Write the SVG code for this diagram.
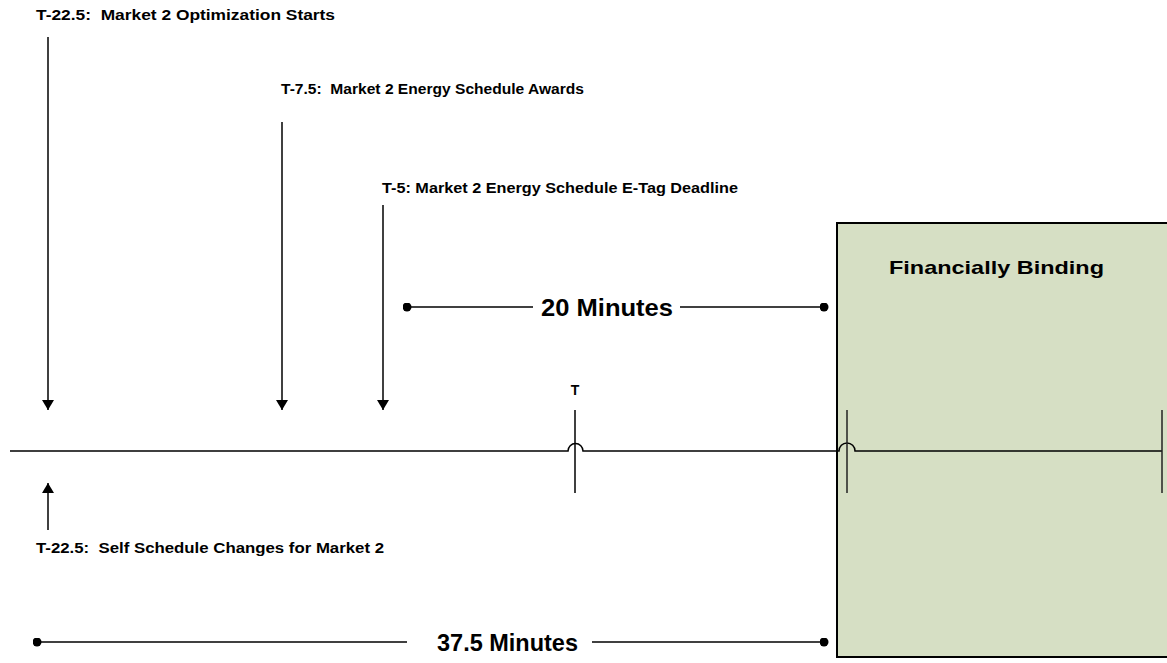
<svg xmlns="http://www.w3.org/2000/svg" width="1167" height="663" viewBox="0 0 1167 663">
<defs>
<style>
text{white-space:pre}
.lbl{font-family:"Liberation Sans",Arial,sans-serif;font-weight:bold;font-size:14px;fill:#000}
.big{font-family:"Liberation Sans",Arial,sans-serif;font-weight:bold;font-size:24px;fill:#000}
.title{font-family:"Liberation Sans",Arial,sans-serif;font-weight:bold;font-size:19px;fill:#000}
.ln{stroke:#000;stroke-width:1.5;fill:none}
.tk{stroke:#222;stroke-width:1.5;fill:none}
</style>
<marker id="arr" viewBox="0 0 10 12" refX="10" refY="6" markerWidth="10" markerHeight="12" markerUnits="userSpaceOnUse" orient="auto">
<path d="M0,0 L10,6 L0,12 Z" fill="#000"/>
</marker>
<marker id="dot" viewBox="0 0 10 10" refX="5" refY="5" markerWidth="9" markerHeight="9" markerUnits="userSpaceOnUse">
<circle cx="5" cy="5" r="5" fill="#000"/>
</marker>
</defs>
<rect width="1167" height="663" fill="#fff"/>
<g id="financially-binding">
<rect x="837" y="223" width="340" height="434" fill="#d6dfc4" stroke="#000" stroke-width="2"/>
<text class="title" x="889" y="274" textLength="215" lengthAdjust="spacingAndGlyphs">Financially Binding</text>
</g>
<g id="connectors">
<line class="ln" x1="48" y1="37" x2="48" y2="410" marker-end="url(#arr)"/>
<line class="ln" x1="282" y1="122" x2="282" y2="410" marker-end="url(#arr)"/>
<line class="ln" x1="383" y1="205" x2="383" y2="410" marker-end="url(#arr)"/>
<line class="ln" x1="48" y1="530" x2="48" y2="483" marker-end="url(#arr)"/>
<path class="ln" d="M10,451 H568 A7.5,7.5 0 0 1 583,451 H839 A8,8 0 0 1 855,451 H1162"/>
<line class="ln" x1="575" y1="410" x2="575" y2="493"/>
<line class="tk" x1="847" y1="410" x2="847" y2="493"/>
<line class="tk" x1="1162" y1="410" x2="1162" y2="493"/>
<line class="ln" x1="407" y1="307" x2="533" y2="307" marker-start="url(#dot)"/>
<line class="ln" x1="680" y1="307" x2="824" y2="307" marker-end="url(#dot)"/>
<line class="ln" x1="37" y1="642" x2="407" y2="642" marker-start="url(#dot)"/>
<line class="ln" x1="592" y1="642" x2="824" y2="642" marker-end="url(#dot)"/>
</g>
<g id="labels">
<text class="lbl" x="36" y="20" textLength="299" lengthAdjust="spacingAndGlyphs">T-22.5:  Market 2 Optimization Starts</text>
<text class="lbl" x="281" y="94" textLength="303" lengthAdjust="spacingAndGlyphs">T-7.5:  Market 2 Energy Schedule Awards</text>
<text class="lbl" x="382" y="193" textLength="356" lengthAdjust="spacingAndGlyphs">T-5: Market 2 Energy Schedule E-Tag Deadline</text>
<text class="lbl" x="575" y="395" text-anchor="middle">T</text>
<text class="lbl" x="36" y="553" textLength="348" lengthAdjust="spacingAndGlyphs">T-22.5:  Self Schedule Changes for Market 2</text>
<text class="big" x="541" y="316" textLength="132" lengthAdjust="spacingAndGlyphs">20 Minutes</text>
<text class="big" x="437" y="651" textLength="141" lengthAdjust="spacingAndGlyphs">37.5 Minutes</text>
</g>
</svg>
